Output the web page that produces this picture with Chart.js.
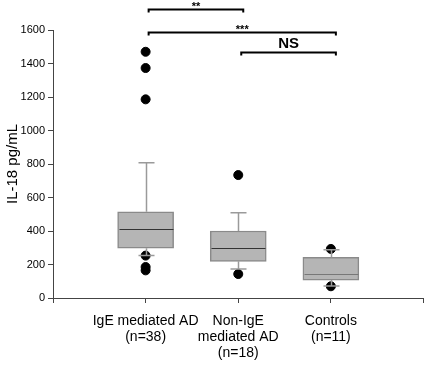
<!DOCTYPE html>
<html>
<head>
<meta charset="utf-8">
<script src="https://cdn.jsdelivr.net/npm/chart.js@4.4.0/dist/chart.umd.min.js"></script>
<style>
  html, body { margin: 0; padding: 0; background: #fff; }
</style>
</head>
<body>
<canvas id="boxChart" width="429" height="369"></canvas>
<script>
// groups along the x axis (positions 1..3)
const groups = [['IgE mediated AD', '(n=38)'], ['Non-IgE', 'mediated AD', '(n=18)'], ['Controls', '(n=11)']]
const positions = [1, 2, 3]

// box plot summary per group (pg/mL)
const q1 = [297, 219, 107]
const median = [412, 297, 141]
const q3 = [515, 400, 243]
const whiskerLow = [253, 173, 72]
const whiskerHigh = [808, 509, 288]

// outliers: [group position, value]
const outlierX = [1, 1, 1, 1, 1, 1, 2, 2, 3, 3]
const outlierY = [1470, 1373, 1186, 253, 185, 165, 734, 143, 293, 70]

// significance brackets: from, to, level, label
const bracketFrom = [1, 1, 2]
const bracketTo = [2, 3, 3]
const bracketLevel = [1725, 1590, 1470]
const bracketText = ['**', '***', 'NS']

const yTicks = [0, 200, 400, 600, 800, 1000, 1200, 1400, 1600]

const ctx = document.getElementById('boxChart').getContext('2d')

// whiskers, medians and brackets drawn through the chart scales
const boxExtras = {
  id: 'boxExtras',
  afterDatasetsDraw(chart) {
    const xs = chart.scales.x
    const ys = chart.scales.y
    const c = chart.ctx
    c.save()
    positions.forEach((p, i) => {
      const x = Math.round(xs.getPixelForValue(p)) + 0.5
      const capHalf = 8
      c.strokeStyle = '#9a9a9a'
      c.lineWidth = 1.5
      c.beginPath()
      c.moveTo(x, ys.getPixelForValue(q3[i]))
      c.lineTo(x, ys.getPixelForValue(whiskerHigh[i]))
      c.moveTo(x - capHalf, ys.getPixelForValue(whiskerHigh[i]))
      c.lineTo(x + capHalf, ys.getPixelForValue(whiskerHigh[i]))
      c.moveTo(x, ys.getPixelForValue(q1[i]))
      c.lineTo(x, ys.getPixelForValue(whiskerLow[i]))
      c.moveTo(x - capHalf, ys.getPixelForValue(whiskerLow[i]))
      c.lineTo(x + capHalf, ys.getPixelForValue(whiskerLow[i]))
      c.stroke()
      // median
      const half = 27
      const my = Math.round(ys.getPixelForValue(median[i])) + 0.5
      c.strokeStyle = i === 2 ? '#777' : '#333'
      c.lineWidth = 1
      c.beginPath()
      c.moveTo(x - half, my)
      c.lineTo(x + half, my)
      c.stroke()
    })
    // brackets
    bracketFrom.forEach((f, i) => {
      const x1 = xs.getPixelForValue(f) + 3
      const x2 = xs.getPixelForValue(bracketTo[i]) + 5
      const y = Math.round(ys.getPixelForValue(bracketLevel[i])) + 0.5
      c.strokeStyle = '#000'
      c.lineWidth = 2
      c.beginPath()
      c.moveTo(x1, y + 3)
      c.lineTo(x1, y)
      c.lineTo(x2, y)
      c.lineTo(x2, y + 3)
      c.stroke()
      c.fillStyle = '#000'
      c.textAlign = 'center'
      c.textBaseline = 'bottom'
      if (bracketText[i] === 'NS') {
        c.font = 'bold 15px "Liberation Sans", Arial, sans-serif'
        c.fillText(bracketText[i], (x1 + x2) / 2, y - 1)
      } else {
        c.font = 'bold 11px "Liberation Sans", Arial, sans-serif'
        c.fillText(bracketText[i], (x1 + x2) / 2, y + 3)
      }
    })
    c.restore()
  }
}

new Chart(ctx, {
  data: {
    datasets: [{
      type: 'bar',
      label: 'IQR',
      data: positions.map((p, i) => ({ x: p, y: [q1[i], q3[i]] })),
      backgroundColor: '#b5b5b5',
      borderColor: '#8a8a8a',
      borderWidth: 1.5,
      borderSkipped: false,
      barThickness: 56
    }, {
      type: 'scatter',
      label: 'Outliers',
      data: outlierX.map((x, i) => ({ x: x, y: outlierY[i] })),
      backgroundColor: '#000',
      borderColor: '#000',
      pointRadius: 4.5,
      clip: false
    }]
  },
  plugins: [boxExtras],
  options: {
    responsive: false,
    animation: false,
    layout: { padding: { top: 30, right: 2, left: 0, bottom: 0 } },
    plugins: {
      legend: { display: false },
      tooltip: { enabled: false }
    },
    scales: {
      x: {
        type: 'linear',
        min: 0,
        max: 4,
        offset: false,
        grid: { display: true, offset: false, drawOnChartArea: false, drawTicks: true, tickLength: 5, color: '#444' },
        border: { color: '#444', width: 1 },
        ticks: {
          stepSize: 1,
          autoSkip: false,
          padding: 10,
          color: '#000',
          font: { family: '"Liberation Sans", Arial, sans-serif', size: 14, lineHeight: 1.15 },
          maxRotation: 0,
          callback: (v) => (v >= 1 && v <= 3 ? groups[Math.round(v) - 1] : '')
        },
        afterFit: (s) => { s.height = 71; s.paddingLeft = 0; s.paddingRight = 0 }
      },
      y: {
        min: 0,
        max: 1600,
        afterBuildTicks: (s) => { s.ticks = yTicks.map(v => ({ value: v })) },
        grid: { display: true, drawOnChartArea: false, drawTicks: true, tickLength: 5, color: '#444' },
        border: { color: '#444', width: 1 },
        ticks: {
          padding: 3,
          autoSkip: false,
          color: '#000',
          font: { family: '"Liberation Sans", Arial, sans-serif', size: 11 },
          callback: (v) => String(v)
        },
        title: {
          display: true,
          text: 'IL-18 pg/mL',
          color: '#000',
          padding: 4,
          font: { family: '"Liberation Sans", Arial, sans-serif', size: 15 }
        },
        afterFit: (s) => { s.width = 53 }
      }
    }
  }
})
</script>
</body>
</html>
